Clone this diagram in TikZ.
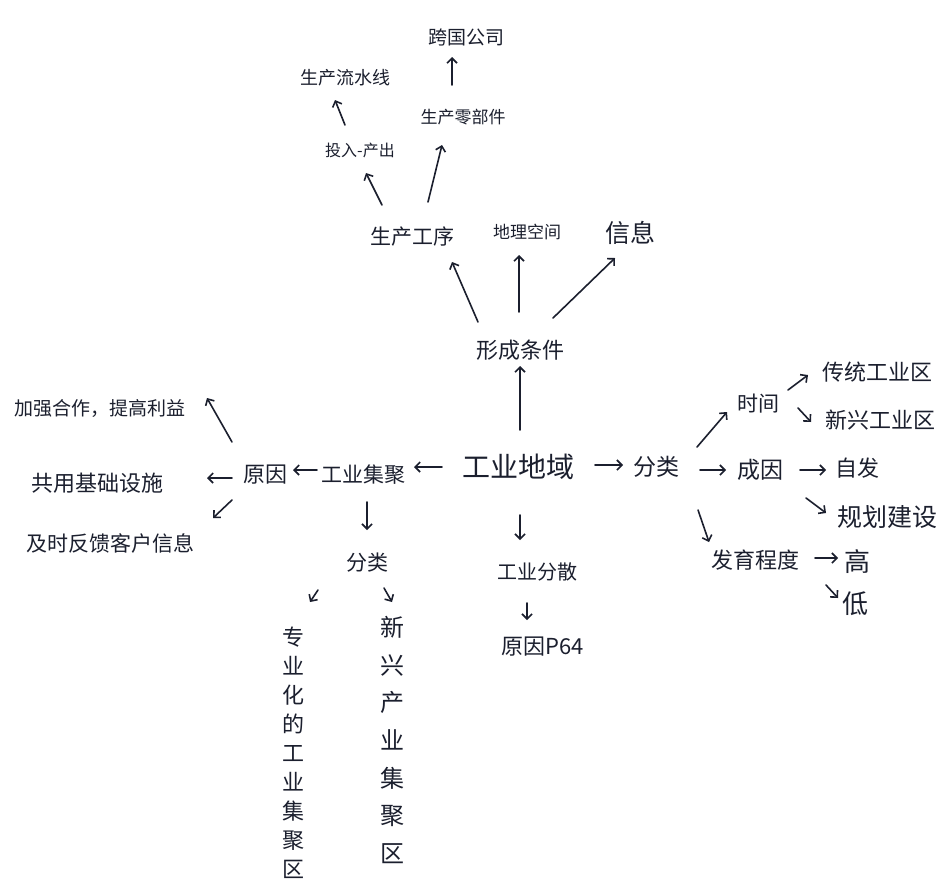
\documentclass[tikz,border=0pt]{standalone}
\usepackage{fontspec}
\usetikzlibrary{arrows.meta}
\newfontfamily\hand{Noto Sans CJK SC}
\definecolor{ink}{HTML}{1B1F2E}
\tikzset{
  lbl/.style={font=\hand\fontsize{#1pt}{#1pt}\selectfont, inner sep=0pt, text=ink},
  vlbl/.style 2 args={font=\hand\fontsize{#1pt}{#2pt}\selectfont, inner sep=0pt, text=ink, align=center},
  arr/.style={draw=ink, line width=1.6pt, line cap=round, line join=round,
    -{Straight Barb[length=5pt,width=10pt,line width=1.6pt]}}
}
% connector from node #1 (offset #2) to node #3 (offset #4)
\newcommand\conn[4]{\draw[arr] ([shift={#2}]#1.center) -- ([shift={#4}]#3.center);}
\begin{document}
\begin{tikzpicture}[x=1pt,y=-1pt]
\fill[white] (0,0) rectangle (941,881);
\useasboundingbox (0,0) rectangle (941,881);

% centre
\node[lbl=28] (dy) at (518,467) {工业地域};

% upper branch
\node[lbl=22] (xc) at (520,350) {形成条件};
\node[lbl=21] (sx) at (412,237) {生产工序};
\node[lbl=17] (dl) at (527,232) {地理空间};
\node[lbl=25] (xx) at (630,233) {信息};
\node[lbl=16] (tr) at (360,150) {投入-产出};
\node[lbl=18] (ls) at (345,78) {生产流水线};
\node[lbl=17] (lb) at (463,117) {生产零部件};
\node[lbl=19] (kg) at (466,37) {跨国公司};

% left branch
\node[lbl=21] (jj) at (363,475) {工业集聚};
\node[lbl=22] (yy) at (265,475) {原因};
\node[lbl=19] (hz) at (100,408) {加强合作，提高利益};
\node[lbl=22] (gy) at (97,483) {共用基础设施};
\node[lbl=21] (js) at (110,543) {及时反馈客户信息};
\node[lbl=21] (fl1) at (367,563) {分类};
\node[vlbl={22}{29}] (zy) at (293,753) {专\\业\\化\\的\\工\\业\\集\\聚\\区};
\node[vlbl={24}{37.7}] (xy) at (392,740) {新\\兴\\产\\业\\集\\聚\\区};

% lower branch
\node[lbl=20] (fs) at (537,572) {工业分散};
\node[lbl=22] (yy2) at (543,647) {原因P64};

% right branch
\node[lbl=23] (fl2) at (656,467) {分类};
\node[lbl=21] (sj) at (758,404) {时间};
\node[lbl=22] (ct) at (877,372) {传统工业区};
\node[lbl=22] (xx2) at (880,420) {新兴工业区};
\node[lbl=23] (cy) at (760,470) {成因};
\node[lbl=22] (zf) at (857,468) {自发};
\node[lbl=25] (gh) at (887,517) {规划建设};
\node[lbl=22] (fy) at (755,560) {发育程度};
\node[lbl=26] (gao) at (857,562) {高};
\node[lbl=26] (di) at (855,604) {低};

% connectors
\conn{dy}{(2,-37)}{xc}{(0,16)}
\conn{xc}{(-42,-28)}{sx}{(40,25)}
\conn{xc}{(-1,-38)}{dl}{(-8,23)}
\conn{xc}{(33,-32)}{xx}{(-15,25)}
\conn{sx}{(-30,-32)}{tr}{(6,23)}
\conn{sx}{(16,-35)}{lb}{(-21,28)}
\conn{tr}{(-15,-25)}{ls}{(-10,22)}
\conn{lb}{(-11,-32)}{kg}{(-14,20)}
\conn{dy}{(-76,0)}{jj}{(51,-8)}
\conn{jj}{(-46,-5)}{yy}{(28,-5)}
\conn{yy}{(-33,-33)}{hz}{(107,-10)}
\conn{yy}{(-33,3)}{gy}{(110,-5)}
\conn{yy}{(-33,25)}{js}{(103,-25)}
\conn{jj}{(4,27)}{fl1}{(0,-33)}
\conn{fl1}{(-49,27)}{zy}{(17,-151)}
\conn{fl1}{(17,25)}{xy}{(0,-138)}
\conn{dy}{(2,48)}{fs}{(-17,-32)}
\conn{fs}{(-10,31)}{yy2}{(-16,-27)}
\conn{dy}{(77,-2)}{fl2}{(-33,-2)}
\conn{fl2}{(41,-20)}{sj}{(-31,8)}
\conn{fl2}{(44,3)}{cy}{(-34,0)}
\conn{fl2}{(42,43)}{fy}{(-46,-18)}
\conn{sj}{(30,-14)}{ct}{(-69,3)}
\conn{sj}{(40,4)}{xx2}{(-69,2)}
\conn{cy}{(40,0)}{zf}{(-31,2)}
\conn{cy}{(46,28)}{gh}{(-61,-4)}
\conn{fy}{(60,-2)}{gao}{(-19,-4)}
\conn{fy}{(71,25)}{di}{(-17,-6)}
\end{tikzpicture}
\end{document}
